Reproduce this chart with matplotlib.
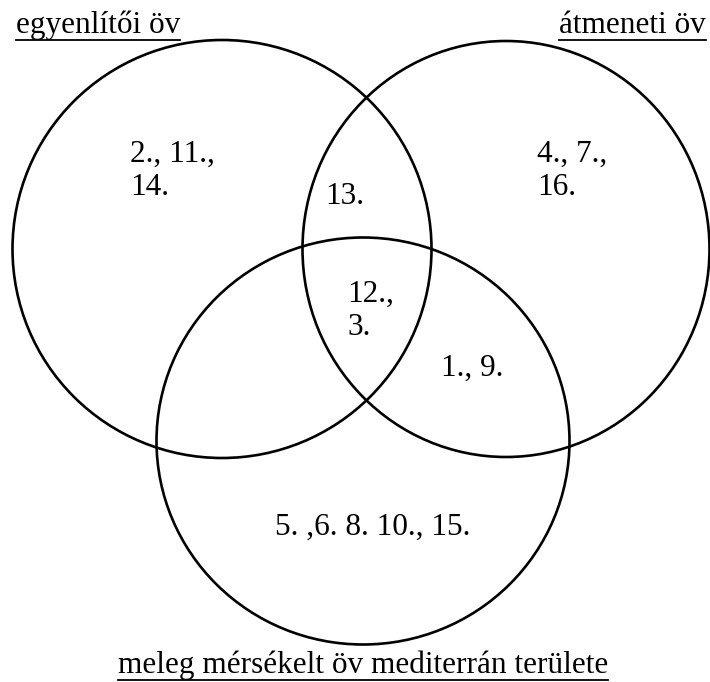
import matplotlib
matplotlib.use('Agg')
import matplotlib.pyplot as plt
from matplotlib.patches import Ellipse

# set names and their circles (pixel coordinates, y downwards)
set_names = ['egyenlítői öv', 'átmeneti öv', 'meleg mérsékelt öv mediterrán területe']
circle_x = [222, 506, 363]
circle_y = [249, 249, 441]
circle_w = [419, 407, 413]
circle_h = [418, 416, 407]

# region contents
region_texts = ['2., 11.,\n14.', '13.', '4., 7.,\n16.', '12.,\n3.', '1., 9.', '5. ,6. 8. 10., 15.']
region_x = [130, 325, 537, 347, 441, 275]
region_y = [162, 204, 162, 302, 376, 535]

FONT = 'Liberation Serif'
SIZE = 22.5
LINE_GAP = 33

fig = plt.figure(figsize=(7.1, 6.82), dpi=100)
ax = fig.add_axes([0, 0, 1, 1])
ax.set_xlim(0, 710)
ax.set_ylim(682, 0)
ax.axis('off')

for cx, cy, w, h in zip(circle_x, circle_y, circle_w, circle_h):
    ax.add_patch(Ellipse((cx, cy), w, h, fill=False, edgecolor='black', linewidth=1.9))

for txt, x, y in zip(region_texts, region_x, region_y):
    for i, line in enumerate(txt.split('\n')):
        ax.text(x, y + i * LINE_GAP, line, family=FONT, fontsize=SIZE,
                ha='left', va='baseline')

# titles, underlined
title_pos = [(16, 33, 'left'), (706, 33, 'right'), (363, 673, 'center')]
titles = []
for name, (x, y, ha) in zip(set_names, title_pos):
    titles.append(ax.text(x, y, name, family=FONT, fontsize=SIZE, ha=ha, va='baseline'))

fig.canvas.draw()
renderer = fig.canvas.get_renderer()
inv = ax.transData.inverted()
for t, (x, y, ha) in zip(titles, title_pos):
    bb = t.get_window_extent(renderer)
    x0, _ = inv.transform((bb.x0, bb.y0))
    x1, _ = inv.transform((bb.x1, bb.y0))
    ax.plot([x0, x1], [y + 7, y + 7], color='black', linewidth=1.3)

fig.savefig('out.png', dpi=100)
